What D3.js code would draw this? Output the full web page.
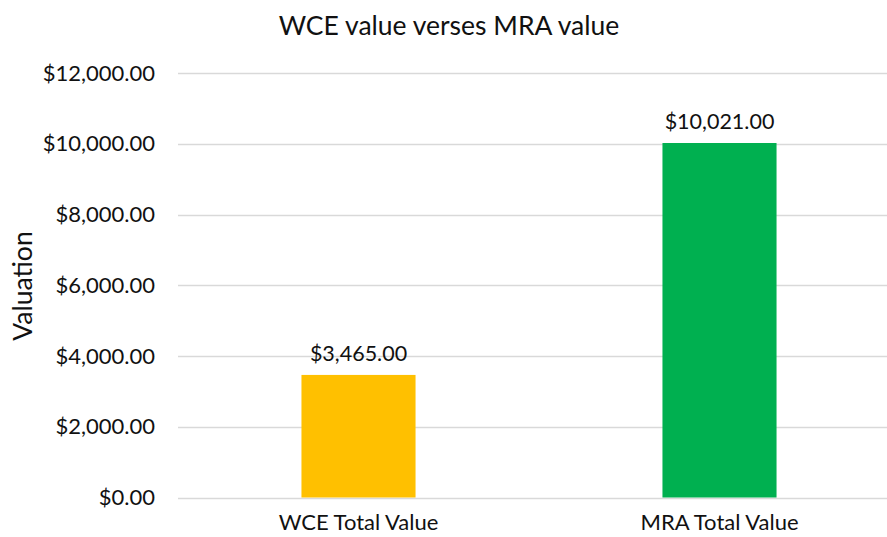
<!DOCTYPE html>
<html><head><meta charset="utf-8">
<script src="https://cdn.jsdelivr.net/npm/d3@7"></script>
<style>body{margin:0;background:#fff;} svg{display:block;font-family:Lato,"Open Sans",sans-serif;}</style>
</head><body>
<svg id="c" width="887" height="537"></svg>
<script>
const categories = ["WCE Total Value", "MRA Total Value"];
const values = [3465, 10021];
const colors = ["#FFC000", "#00B050"];
const yTicks = [0, 2000, 4000, 6000, 8000, 10000, 12000];
const title = "WCE value verses MRA value";
const yTitle = "Valuation";

const svg = d3.select("#c");
const x = d3.scaleBand().domain(categories).range([178, 900]).padding(0);
const y = d3.scaleLinear().domain([0, 12000]).range([497.5, 73]);
const fmt = v => "$" + d3.format(",.2f")(v);
const barW = x.bandwidth() * 0.316;
const txt = "#111";

// gridlines
svg.append("g").selectAll("line").data(yTicks).join("line")
  .attr("x1", 178).attr("x2", 900)
  .attr("y1", d => Math.round(y(d)) + 0.5).attr("y2", d => Math.round(y(d)) + 0.5)
  .attr("stroke", "#D9D9D9").attr("stroke-width", 1.3);

// y tick labels
svg.append("g").selectAll("text").data(yTicks).join("text")
  .attr("x", 155).attr("y", d => y(d)).attr("dy", "0.35em")
  .attr("text-anchor", "end").attr("font-size", 22).attr("fill", txt)
  .text(fmt);

// bars
svg.append("g").selectAll("rect").data(values).join("rect")
  .attr("x", (d, i) => x(categories[i]) + x.bandwidth() / 2 - barW / 2)
  .attr("width", barW)
  .attr("y", d => y(d)).attr("height", d => y(0) - y(d))
  .attr("fill", (d, i) => colors[i]);

// data labels
svg.append("g").selectAll("text").data(values).join("text")
  .attr("x", (d, i) => x(categories[i]) + x.bandwidth() / 2)
  .attr("y", d => y(d) - 14)
  .attr("text-anchor", "middle").attr("font-size", 21.5).attr("fill", txt)
  .text(fmt);

// category labels
svg.append("g").selectAll("text").data(categories).join("text")
  .attr("x", d => x(d) + x.bandwidth() / 2).attr("y", 530)
  .attr("text-anchor", "middle").attr("font-size", 22).attr("fill", txt)
  .text(d => d);

// title
svg.append("text").attr("x", 449).attr("y", 35).attr("text-anchor", "middle")
  .attr("font-size", 26.5).attr("fill", txt).text(title);

// y title
svg.append("text").attr("transform", "translate(32,286) rotate(-90)")
  .attr("text-anchor", "middle").attr("font-size", 26.5).attr("fill", txt).text(yTitle);
</script>
</body></html>
